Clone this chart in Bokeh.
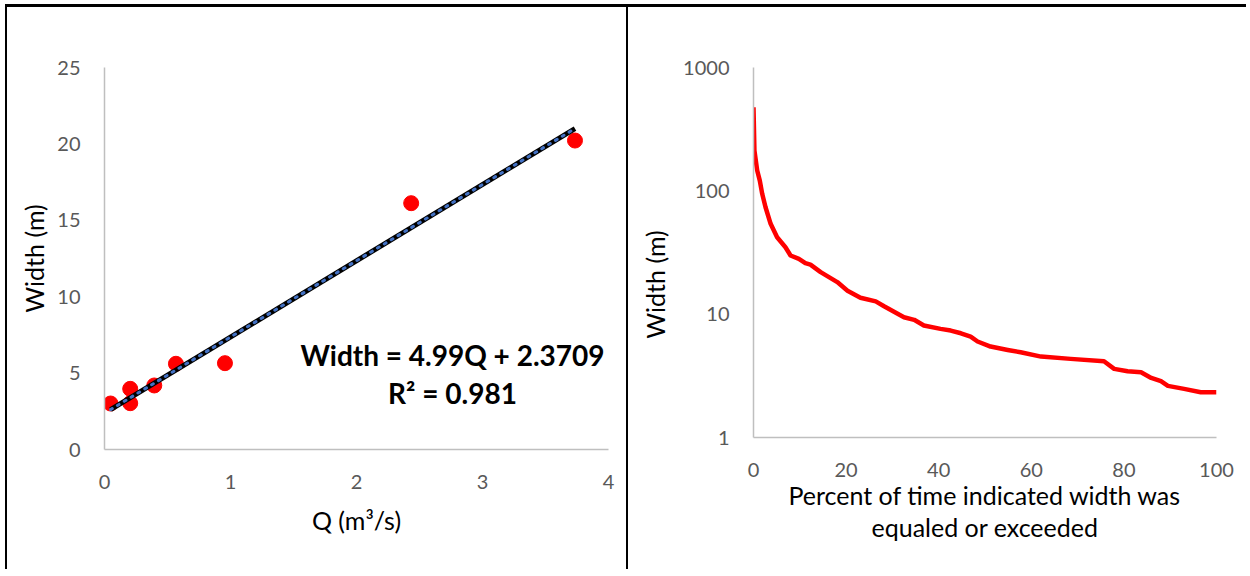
from bokeh.plotting import figure
from bokeh.models import Label, FixedTicker, BasicTickFormatter
from bokeh.embed import file_html
from bokeh.resources import INLINE

# ---------------- data ----------------
q_values = [0.048, 0.204, 0.204, 0.395, 0.567, 0.956, 2.434, 3.734]
width_values = [3.01, 3.97, 3.03, 4.19, 5.61, 5.65, 16.12, 20.22]
trend_slope = 4.99
trend_intercept = 2.3709
r_squared = 0.981

pct_time = [0, 0.2, 0.8, 1.36, 1.88, 2.6, 3.7, 5.1, 6.9, 8.0, 9.8, 11.2, 12.3, 14.5,
            18.1, 20.3, 23.1, 26.4, 28.2, 32.5, 34.7, 36.8, 40.4, 42.6, 44.8, 46.9,
            48.4, 51.2, 54.9, 57.7, 62.1, 68.5, 75.7, 77.9, 80.8, 83.7, 85.9, 88.0,
            89.5, 93.0, 96.6, 100]
width_exceed = [476, 212, 146, 121, 94.6, 73.6, 54, 42, 34.9, 29.9, 28.1, 25.9, 25.2, 21.9,
                18.2, 15.5, 13.6, 12.7, 11.6, 9.45, 9.0, 8.09, 7.6, 7.36, 7.0, 6.58,
                6.0, 5.46, 5.13, 4.91, 4.53, 4.34, 4.15, 3.6, 3.44, 3.38, 3.04, 2.86,
                2.62, 2.48, 2.33, 2.33]

left_xticks = [0, 1, 2, 3, 4]
left_yticks = [0, 5, 10, 15, 20, 25]
right_xticks = [0, 20, 40, 60, 80, 100]
right_yticks = [1, 10, 100, 1000]

eq_line1 = "Width = 4.99Q + 2.3709"
eq_line2 = "R² = 0.981"
left_ylabel = "Width (m)"
left_xlabel = "Q (m³/s)"
right_ylabel = "Width (m)"
right_xlabel = "Percent of time indicated width was\nequaled or exceeded"

FONT = "Lato"
TICK_COLOR = "#595959"
AXIS_COLOR = "#BFBFBF"


def style_axes(p):
    p.grid.visible = False
    p.outline_line_color = None
    for ax in (p.xaxis[0], p.yaxis[0]):
        ax.axis_line_color = AXIS_COLOR
        ax.axis_line_width = 1.5
        ax.major_tick_line_color = None
        ax.minor_tick_line_color = None
        ax.major_tick_out = 0
        ax.major_tick_in = 0
        ax.minor_tick_out = 0
        ax.major_label_text_font = FONT
        ax.major_label_text_font_size = "20px"
        ax.major_label_text_color = TICK_COLOR
        ax.axis_label_text_font = FONT
        ax.axis_label_text_font_size = "25px"
        ax.axis_label_text_color = "black"
        ax.axis_label_text_font_style = "normal"
    p.xaxis.major_label_standoff = 25
    p.yaxis.major_label_standoff = 24


# ---------------- left panel ----------------
p1 = figure(width=621, height=565, x_range=(0, 4), y_range=(0, 25),
            output_backend="svg", toolbar_location=None,
            min_border_left=97, min_border_right=20, min_border_top=60, min_border_bottom=123)
p1.styles = {"margin-left": "5px", "margin-top": "4px",
             "border-top": "3px solid black", "border-left": "2px solid black"}
style_axes(p1)
p1.xaxis.ticker = FixedTicker(ticks=left_xticks)
p1.yaxis.ticker = FixedTicker(ticks=left_yticks)
p1.xaxis.axis_label = left_xlabel
p1.yaxis.axis_label = left_ylabel
p1.xaxis.axis_label_standoff = 13
p1.yaxis.axis_label_standoff = 5

p1.scatter(q_values, width_values, size=15, color="#FF0000")
qmin, qmax = min(q_values), max(q_values)
tx = [qmin, qmax]
ty = [trend_slope * v + trend_intercept for v in tx]
p1.line(tx, ty, line_color="black", line_width=5)
p1.line(tx, ty, line_color="#4472C4", line_width=3, line_dash="2 6", line_cap="round")


def lx(px):
    return (px - 104) / 126.0


def ly(py):
    return (449 - py) / 15.28


p1.add_layout(Label(x=lx(452), y=ly(354), text=eq_line1, text_font=FONT, text_font_style="bold",
                    text_font_size="28px", text_align="center", text_baseline="middle",
                    text_color="black"))
p1.add_layout(Label(x=lx(452), y=ly(392), text=eq_line2, text_font=FONT, text_font_style="bold",
                    text_font_size="28px", text_align="center", text_baseline="middle",
                    text_color="black"))

# ---------------- right panel ----------------
p2 = figure(width=620, height=565, x_range=(0, 100), y_range=(1, 1000), y_axis_type="log",
            output_backend="svg", toolbar_location=None,
            min_border_left=125, min_border_right=32, min_border_top=60, min_border_bottom=135)
p2.styles = {"position": "absolute", "left": "626px", "top": "4px",
             "border-top": "3px solid black", "border-left": "2px solid black"}
style_axes(p2)
p2.xaxis.ticker = FixedTicker(ticks=right_xticks)
p2.yaxis.ticker = FixedTicker(ticks=right_yticks)
p2.yaxis.formatter = BasicTickFormatter(use_scientific=False)
p2.xaxis.axis_label = right_xlabel
p2.xaxis.axis_label_text_line_height = 1.08
p2.xaxis.axis_label_standoff = 0
p2.yaxis.axis_label = right_ylabel + "\u00a0" * 10
p2.yaxis.axis_label_standoff = 10

p2.line(pct_time, width_exceed, line_color="#FF0000", line_width=4.5, line_join="round")

open("out.html", "w").write(file_html([p1, p2], INLINE))
